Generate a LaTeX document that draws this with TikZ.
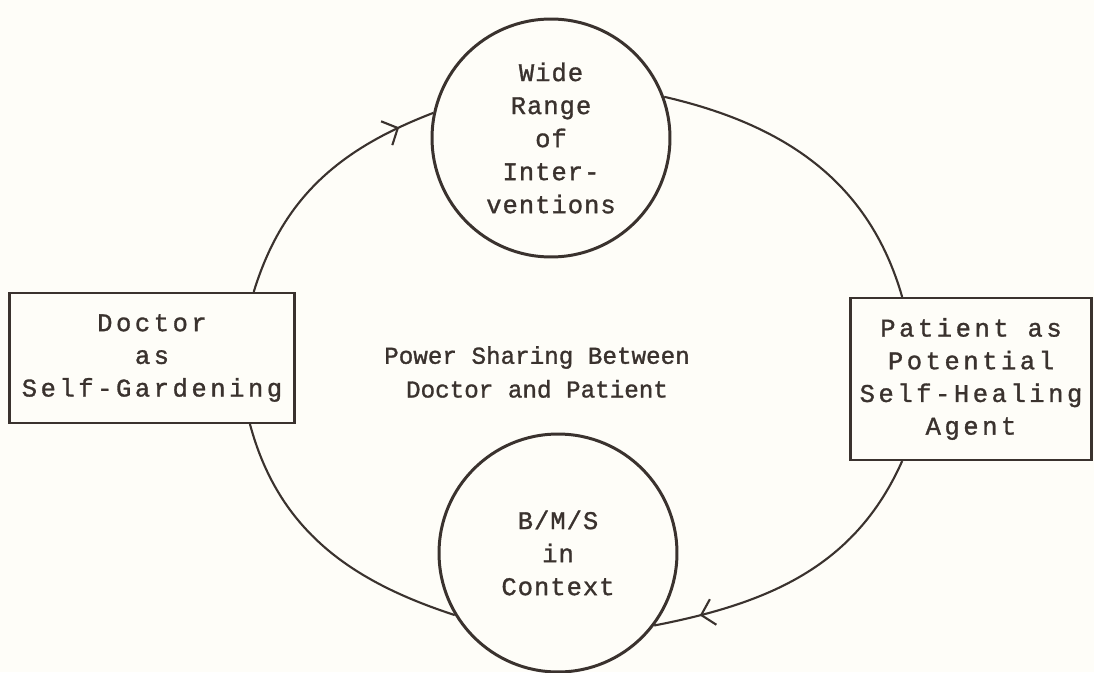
\documentclass[tikz,border=0pt]{standalone}
\usepackage{fontspec}
\usetikzlibrary{arrows.meta,decorations.markings}
\newfontfamily\boxfont[LetterSpace=14,FakeBold=1.2]{Liberation Mono}
\newfontfamily\circfont[LetterSpace=4,FakeBold=1.2]{Liberation Mono}
\newfontfamily\midfont[FakeBold=1.2]{Liberation Mono}
\definecolor{ink}{RGB}{58,50,46}
\definecolor{paper}{RGB}{254,253,248}

\begin{document}
\begin{tikzpicture} [x=0.02cm, y=0.02cm, ink,
            circ_style/.style={circle, draw=ink, line width=1.7pt, minimum size=4.76cm, inner sep=0pt, align=center,
                font=\circfont\fontsize{14.5}{18.8}\selectfont},
            box_style/.style={rectangle, draw=ink, line width=1.2pt, inner sep=0pt, align=center,
                font=\boxfont\fontsize{14.5}{18.6}\selectfont},
            edge_style/.style={draw=ink, line width=1.2pt},
            arrow_at/.style={postaction={decorate}, decoration={markings,
                mark=at position #1 with {\arrow{Straight Barb[length=7pt,width=15pt,line width=1.2pt]}}}}]
            \fill[paper] (0,0) rectangle (1094,-672);
            \useasboundingbox (0,0) rectangle (1094,-672);
            \node[circ_style] (interv) at (551,-138) {Wide\\Range\\of\\Inter-\\ventions};
            \node[circ_style] (bms) at (558,-553) {B/M/S\\in\\Context};
            \node[box_style, minimum width=5.7cm, minimum height=2.6cm] (doctor) at (152,-358) {Doctor\\as\\Self-Gardening};
            \node[box_style, minimum width=4.82cm, minimum height=3.24cm] (patient) at (971,-379) {Patient as\\Potential\\Self-Healing\\Agent};
            \node[align=center, font=\midfont\fontsize{13.8}{19.2}\selectfont] (power) at (537,-372) {Power Sharing Between\\Doctor and Patient};
            \draw (doctor.33.6) edge[edge_style, arrow_at=0.86, out=73, in=201] (interv.168) {};
            \draw (interv.20) edge[edge_style, out=-13, in=106] (patient.130) {};
            \draw (patient.230) edge[edge_style, arrow_at=0.85, out=246, in=11] (bms.323) {};
            \draw (bms.211) edge[edge_style, out=162, in=285] (doctor.326) {};
        \end{tikzpicture}
\end{document}
